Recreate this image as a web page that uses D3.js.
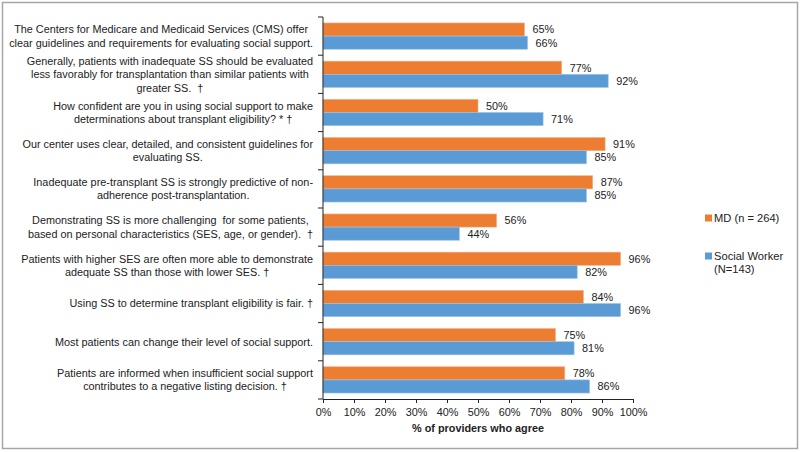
<!DOCTYPE html>
<html><head><meta charset="utf-8">
<script src="https://cdn.jsdelivr.net/npm/d3@7"></script>
<style>body{margin:0;background:#fff}svg{display:block;font-family:"Liberation Sans",Arial,sans-serif}text{white-space:pre}</style>
</head><body><svg id="c" width="800" height="452"></svg>
<script>
const categories = [
  ["The Centers for Medicare and Medicaid Services (CMS) offer","clear guidelines and requirements for evaluating social support."],
  ["Generally, patients with inadequate SS should be evaluated","less favorably for transplantation than similar patients with","greater SS.  \u2020"],
  ["How confident are you in using social support to make","determinations about transplant eligibility? * \u2020"],
  ["Our center uses clear, detailed, and consistent guidelines for","evaluating SS."],
  ["Inadequate pre-transplant SS is strongly predictive of non-","adherence post-transplantation."],
  ["Demonstrating SS is more challenging  for some patients,","based on personal characteristics (SES, age, or gender).  \u2020"],
  ["Patients with higher SES are often more able to demonstrate","adequate SS than those with lower SES. \u2020"],
  ["Using SS to determine transplant eligibility is fair. \u2020"],
  ["Most patients can change their level of social support."],
  ["Patients are informed when insufficient social support","contributes to a negative listing decision. \u2020"]
];
const mdValues = [65,77,50,91,87,56,96,84,75,78];
const swValues = [66,92,71,85,85,44,82,96,81,86];
const seriesNames = ["MD (n = 264)", "Social Worker|(N=143)"];
const xTicks = [0,10,20,30,40,50,60,70,80,90,100];
const axisTitle = "% of providers who agree";

const colors = ["#ED7D31","#5B9BD5"];
const svg = d3.select("#c");
svg.append("rect").attr("x",2.5).attr("y",2.5).attr("width",795).attr("height",446)
  .attr("fill","#fff").attr("stroke","#a6a6a6").attr("stroke-width",1.5);

const L=323, R=633, T=17, B=399;
const x = d3.scaleLinear().domain([0,100]).range([L,R]);
const idx = d3.range(categories.length);
const y = d3.scaleBand().domain(idx).range([T,B]).paddingInner(0).paddingOuter(0);
const inner = d3.scaleBand().domain([0,1]).range([0,y.bandwidth()]).paddingInner(0).paddingOuter(0.4533);

const fs = 10.85;
// bars
const series=[mdValues,swValues];
series.forEach((vals,s)=>{
  const g=svg.append("g");
  g.selectAll("rect").data(vals).enter().append("rect")
    .attr("x",x(0)).attr("y",(d,i)=>y(i)+inner(s)).attr("width",d=>x(d)-x(0)).attr("height",inner.bandwidth())
    .attr("fill",colors[s]).attr("stroke",s===0?"#f4b083":"#9dc3e6").attr("stroke-width",0.6);
  g.selectAll("text").data(vals).enter().append("text")
    .attr("x",d=>x(d)+8).attr("y",(d,i)=>y(i)+inner(s)+inner.bandwidth()/2).attr("dy","0.36em")
    .attr("font-size",fs).attr("fill","#222").text(d=>d+"%");
});

// y axis
const ya = svg.append("g").attr("transform",`translate(${L},0)`);
ya.append("line").attr("x1",0).attr("x2",0).attr("y1",T).attr("y2",B).attr("stroke","#222");
d3.range(categories.length+1).forEach(i=>{
  const yy = T + i*y.step();
  ya.append("line").attr("x1",-5).attr("x2",0).attr("y1",yy).attr("y2",yy).attr("stroke","#222");
});
// category labels
const lh = 13.3;
categories.forEach((lines,i)=>{
  const cy = y(i)+y.bandwidth()/2;
  const g = svg.append("g");
  const ts = lines.map((t,k)=>g.append("text").attr("font-size",fs).attr("fill","#222")
     .attr("y",cy+(k-(lines.length-1)/2)*lh).attr("dy","0.36em").text(t));
  const w = d3.max(ts,t=>t.node().getComputedTextLength());
  const cx = 313 - w/2;
  ts.forEach(t=>t.attr("x",cx).attr("text-anchor","middle"));
});

// x axis
const xa = svg.append("g").attr("transform",`translate(0,${B})`)
  .call(d3.axisBottom(x).tickValues(xTicks).tickFormat(d=>d+"%").tickSize(4).tickSizeOuter(0));
xa.select(".domain").attr("stroke","#222");
xa.selectAll(".tick line").attr("stroke","#222");
xa.selectAll("text").attr("font-size",fs).attr("fill","#222").attr("font-family","Liberation Sans, Arial, sans-serif").attr("dy","0.95em");
svg.append("text").attr("x",(L+R)/2).attr("y",432).attr("text-anchor","middle").attr("font-weight","bold")
  .attr("font-size",fs).attr("fill","#222").text(axisTitle);

// legend
const legY=[218,256];
seriesNames.forEach((n,s)=>{
  svg.append("rect").attr("x",705).attr("y",legY[s]-3.5).attr("width",7).attr("height",7).attr("fill",colors[s]);
  n.split("|").forEach((t,k)=>{
    svg.append("text").attr("x",714).attr("y",legY[s]+k*13.3).attr("dy","0.36em").attr("font-size",fs+0.3).attr("fill","#222").text(t);
  });
});
</script></body></html>
